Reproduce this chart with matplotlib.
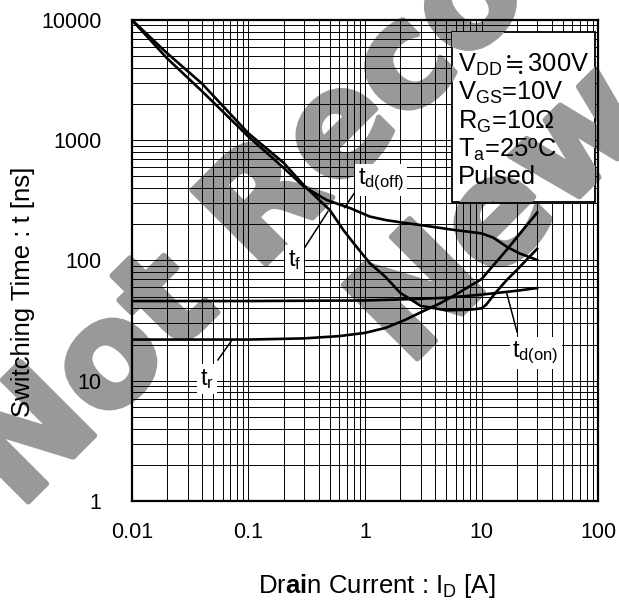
"""Switching time vs drain current (log-log datasheet chart)."""

import matplotlib

matplotlib.use("Agg")
import matplotlib.patheffects as pe
import matplotlib.pyplot as plt
from matplotlib.patches import Rectangle
from matplotlib.ticker import LogLocator, NullFormatter

plt.rcParams["font.family"] = ["Liberation Sans", "DejaVu Sans"]
plt.rcParams["mathtext.fontset"] = "custom"
plt.rcParams["mathtext.rm"] = "Liberation Sans"
plt.rcParams["mathtext.it"] = "Liberation Sans"
plt.rcParams["mathtext.bf"] = "Liberation Sans:bold"
plt.rcParams["mathtext.fallback"] = "stixsans"

# --- data ---
id_tf = [0.01, 0.02, 0.04, 0.07, 0.1, 0.2, 0.3, 0.5, 0.65, 0.8, 1.1, 1.5,
         2.0, 3.0, 5.0, 8.0, 10, 11, 13, 16.5, 20, 30]
t_f = [10000, 5300, 2950, 1650, 1140, 650, 420, 262, 180, 139, 95, 73,
       54, 42, 38.5, 39, 40, 43, 53, 69, 83, 125]

id_tdoff = [0.01, 0.02, 0.04, 0.07, 0.1, 0.2, 0.3, 0.47, 0.75, 1.1, 1.5,
            2.0, 3.0, 5.7, 10, 12.6, 16.5, 21, 30]
t_doff = [10000, 4800, 2550, 1500, 1070, 590, 410, 318, 272, 232, 217,
          208, 197, 180, 168, 155, 130, 115, 101]

id_tdon = [0.01, 0.1, 1.0, 3.0, 5.0, 10, 20, 30]
t_don = [46, 46, 46.5, 48, 49, 52, 56, 59]

id_tr = [0.01, 0.1, 0.3, 0.6, 1.0, 1.5, 2.2, 3.0, 4.4, 6.0, 10, 16.5, 30]
t_r = [22, 22, 22.5, 23.5, 25, 27.5, 32, 37, 44, 52, 70, 123, 250]

x_ticks = [0.01, 0.1, 1, 10, 100]
x_ticklabels = ["0.01", "0.1", "1", "10", "100"]
y_ticks = [1, 10, 100, 1000, 10000]
y_ticklabels = ["1", "10", "100", "1000", "10000"]

# curve labels: text, label position, leader line (start, end)
curve_labels = [
    (r"t$_{\mathregular{d(off)}}$", (1.37, 467), [(0.82, 371), (0.67, 275)]),
    (r"t$_{\mathregular{f}}$", (0.248, 101), [(0.306, 129.5), (0.48, 255)]),
    (r"t$_{\mathregular{r}}$", (0.0438, 10.3), [(0.0547, 14.9), (0.0721, 21.8)]),
    (r"t$_{\mathregular{d(on)}}$", (29.1, 17.0), [(20.2, 25.4), (16.5, 53)]),
]

conditions = [
    r"V$_{\mathregular{DD}}$$\mathregular{\fallingdotseq}$300V",
    r"V$_{\mathregular{GS}}$=10V",
    r"R$_{\mathregular{G}}$=10Ω",
    r"T$_{\mathregular{a}}$=25ºC",
    "Pulsed",
]

watermark = ["Not Recommended", "New Design"]


def main() -> None:
    fig = plt.figure(figsize=(6.19, 6.0), dpi=100)
    ax = fig.add_axes([0.2132, 0.165, 0.7529, 0.8017])
    ax.set_facecolor("none")

    # watermark behind the chart (heavy grey lettering)
    wm_kw = dict(fontsize=103, fontweight="bold", family="DejaVu Sans",
                 color="#999999", rotation=45, rotation_mode="anchor",
                 ha="left", va="baseline",
                 path_effects=[pe.withStroke(linewidth=4, foreground="#999999")])
    wm_pos = [(0.0307, 0.1483), (0.6591, 0.3867)]
    for (fx, fy), s in zip(wm_pos, watermark):
        fig.text(fx, fy, s, zorder=-10, **wm_kw)

    ax.set_xscale("log")
    ax.set_yscale("log")
    ax.set_xlim(0.01, 100)
    ax.set_ylim(1, 10000)

    for xs, ys in [(id_tf, t_f), (id_tdoff, t_doff), (id_tdon, t_don), (id_tr, t_r)]:
        ax.plot(xs, ys, color="black", lw=1.9, zorder=4)

    ax.set_xticks(x_ticks)
    ax.set_xticklabels(x_ticklabels)
    ax.set_yticks(y_ticks)
    ax.set_yticklabels(y_ticklabels)
    for axis in (ax.xaxis, ax.yaxis):
        axis.set_minor_locator(LogLocator(base=10, subs=range(2, 10)))
        axis.set_minor_formatter(NullFormatter())
    ax.grid(True, which="both", color="black", lw=0.7)
    ax.tick_params(which="both", length=0, labelsize=15.5)
    ax.tick_params(axis="x", pad=15)
    ax.tick_params(axis="y", pad=22)
    for sp in ax.spines.values():
        sp.set_linewidth(1.6)
        sp.set_zorder(6)

    # curve labels with leader lines
    for text, (lx, ly), leader in curve_labels:
        ax.text(lx, ly, text, fontsize=17, ha="center", va="center", zorder=7,
                bbox=dict(fc="white", ec="none", pad=2))
        ax.plot([p[0] for p in leader], [p[1] for p in leader],
                color="black", lw=1.1, zorder=4)

    # conditions box (watermark shows through it, grid does not)
    box = Rectangle((0.687, 0.6216), 0.3066, 0.3534, transform=ax.transAxes,
                    fc="white", ec="black", lw=1.3, zorder=5)
    ax.add_patch(box)
    for (fx, fy), s in zip(wm_pos, watermark):
        t = ax.text(fx, fy, s, transform=fig.transFigure, zorder=5.5,
                    clip_on=True, **wm_kw)
        t.set_clip_path(box)
    baselines = [0.8925, 0.8337, 0.7748, 0.7158, 0.659]
    for yb, s in zip(baselines, conditions):
        ax.text(0.6996, yb, s, transform=ax.transAxes, fontsize=18.4,
                ha="left", va="baseline", zorder=6)

    fig.text(0.037, 0.513, "Switching Time : t [ns]", rotation=90,
             fontsize=18.5, ha="center", va="center")
    fig.text(377 / 619, 1 - 593 / 600, r"Dr$\mathbf{ai}$n Current : I$_{\mathregular{D}}$ [A]",
             fontsize=18.5, ha="center", va="baseline")

    fig.savefig("out.png", dpi=100)
    plt.close(fig)


if __name__ == "__main__":
    main()
